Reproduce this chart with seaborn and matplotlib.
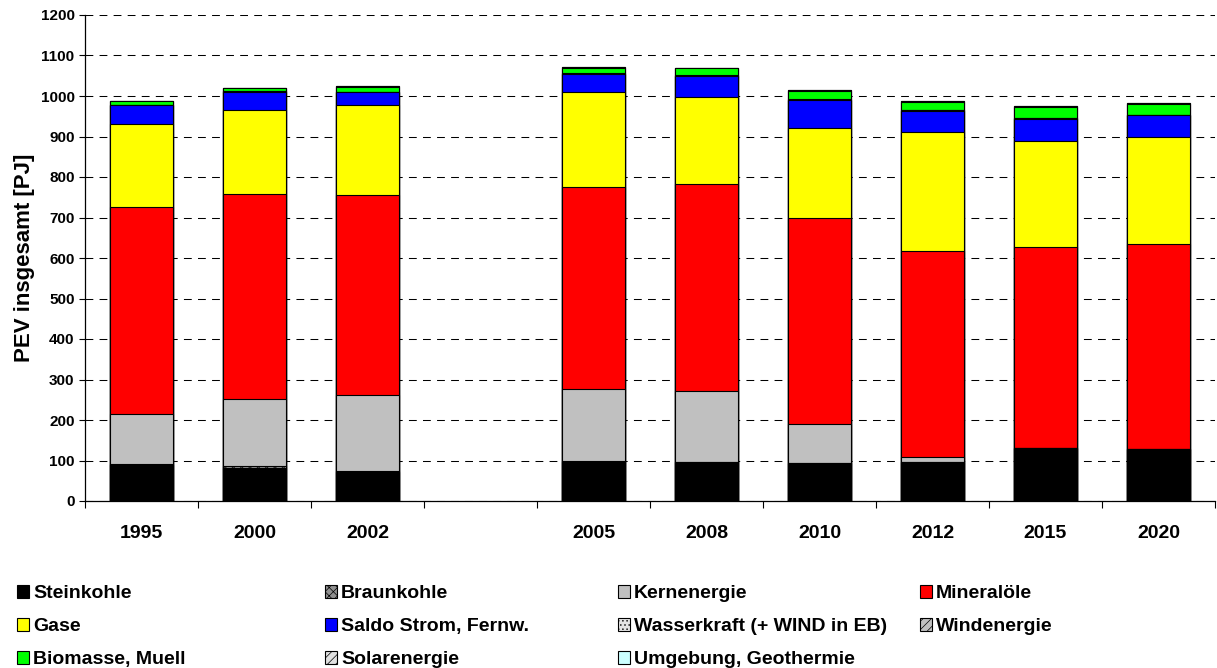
import matplotlib
matplotlib.use("Agg")
import matplotlib.pyplot as plt
from matplotlib.patches import Patch
import seaborn as sns
import pandas as pd
import numpy as np

# ============================
# DATEN (PJ)
# ============================
jahre = ["1995", "2000", "2002", "2005", "2008", "2010", "2012", "2015", "2020"]
achse = ["1995", "2000", "2002", "", "2005", "2008", "2010", "2012", "2015", "2020"]

steinkohle = [88, 82, 71, 96, 96, 95, 96, 132, 128]
braunkohle = [4, 5, 3, 3, 0, 0, 0, 0, 0]
kernenergie = [122, 166, 188, 177, 175, 95, 12, 0, 0]
mineraloele = [511, 506, 494, 499, 511, 509, 510, 494, 507]
gase = [206, 206, 223, 236, 216, 222, 293, 264, 265]
saldo_strom = [47, 46, 30, 43, 51, 69, 53, 54, 52]
wasserkraft = [1, 1, 1, 1, 1, 1, 1, 1, 1]
windenergie = [0, 0, 1, 1, 1, 1, 1, 1, 1]
biomasse = [8, 7, 12, 14, 17, 21, 20, 28, 27]
solarenergie = [0, 1, 1, 1, 1, 1, 1, 1, 1]
umgebung = [0, 0, 0, 0, 0, 0, 0, 0, 0]

namen = ["Steinkohle", "Braunkohle", "Kernenergie", "Mineralöle", "Gase",
         "Saldo Strom, Fernw.", "Wasserkraft (+ WIND in EB)", "Windenergie",
         "Biomasse, Muell", "Solarenergie", "Umgebung, Geothermie"]
werte = [steinkohle, braunkohle, kernenergie, mineraloele, gase, saldo_strom,
         wasserkraft, windenergie, biomasse, solarenergie, umgebung]

# ============================
# STIL
# ============================
farben = {
    "Steinkohle": "#000000",
    "Braunkohle": "#909090",
    "Kernenergie": "#C0C0C0",
    "Mineralöle": "#FF0000",
    "Gase": "#FFFF00",
    "Saldo Strom, Fernw.": "#0000FF",
    "Wasserkraft (+ WIND in EB)": "#E6E6E6",
    "Windenergie": "#C0C0C0",
    "Biomasse, Muell": "#00FF00",
    "Solarenergie": "#E0E0E0",
    "Umgebung, Geothermie": "#CCFFFF",
}
muster = {
    "Braunkohle": "xxxx",
    "Wasserkraft (+ WIND in EB)": "....",
    "Windenergie": "////",
    "Solarenergie": "////",
}

sns.set_style("white")
plt.rcParams["font.family"] = ["Liberation Sans", "DejaVu Sans"]
plt.rcParams["font.weight"] = "bold"
plt.rcParams["hatch.linewidth"] = 0.5
for k in ["text.color", "axes.labelcolor", "xtick.color", "ytick.color"]:
    plt.rcParams[k] = "black"

df = pd.DataFrame({"Jahr": jahre})
for n, w in zip(namen, werte):
    df[n] = w
kum = df[namen].cumsum(axis=1)
kum.insert(0, "Jahr", jahre)

fig = plt.figure(figsize=(12.17, 6.68), dpi=100)
ax = fig.add_axes([85 / 1217, 1 - 501 / 668, 1130 / 1217, 486 / 668])

# gestapelt: von oben nach unten ueberzeichnen
for n in reversed(namen):
    sns.barplot(data=kum, x="Jahr", y=n, order=achse, color=farben[n],
                hatch=muster.get(n), edgecolor="black", linewidth=0.8,
                width=0.56, saturation=1, errorbar=None, ax=ax)

ax.set_xlim(-0.5, 9.5)
ax.set_ylim(0, 1200)
ax.set_yticks(np.arange(0, 1201, 100))
ax.set_xticks(range(len(achse)), achse)
ax.set_xticks(np.arange(-0.5, 10, 1), minor=True)
ax.tick_params(axis="x", which="major", length=0, pad=17, labelsize=14)
ax.tick_params(axis="x", which="minor", length=5, width=0.8, direction="out",
               color="black", bottom=True)
ax.tick_params(axis="y", length=4.5, width=0.8, direction="out", color="black",
               left=True, pad=3, labelsize=11)
for lab in ax.get_xticklabels() + ax.get_yticklabels():
    lab.set_fontweight("bold")
    lab.set_color("black")

ax.set_xlabel("")
ax.set_ylabel("PEV insgesamt [PJ]", fontsize=16, fontweight="bold", color="black")
ax.yaxis.set_label_coords(-0.044, 0.5)

ax.yaxis.grid(True, color="black", linestyle=(0, (7.5, 6)), linewidth=0.75)
ax.set_axisbelow(True)
for s in ["top", "right"]:
    ax.spines[s].set_visible(False)
for s in ["left", "bottom"]:
    ax.spines[s].set_color("black")
    ax.spines[s].set_linewidth(0.9)

# ============================
# LEGENDE (4 Spalten, zeilenweise)
# ============================
spalten_x = [17, 325, 618, 920]
for c, x in enumerate(spalten_x):
    griffe = []
    for n in namen[c::4]:
        griffe.append(Patch(facecolor=farben[n], edgecolor="black",
                            hatch=muster.get(n), linewidth=0.8, label=n))
    fig.legend(handles=griffe, loc="upper left",
               bbox_to_anchor=(x / 1217, 1 - 585 / 668), frameon=False,
               borderpad=0, borderaxespad=0, handlelength=0.62,
               handleheight=0.62, handletextpad=0.2, labelspacing=0.82,
               labelcolor="black", prop={"size": 14, "weight": "bold"})

fig.savefig("out.png", dpi=100)
